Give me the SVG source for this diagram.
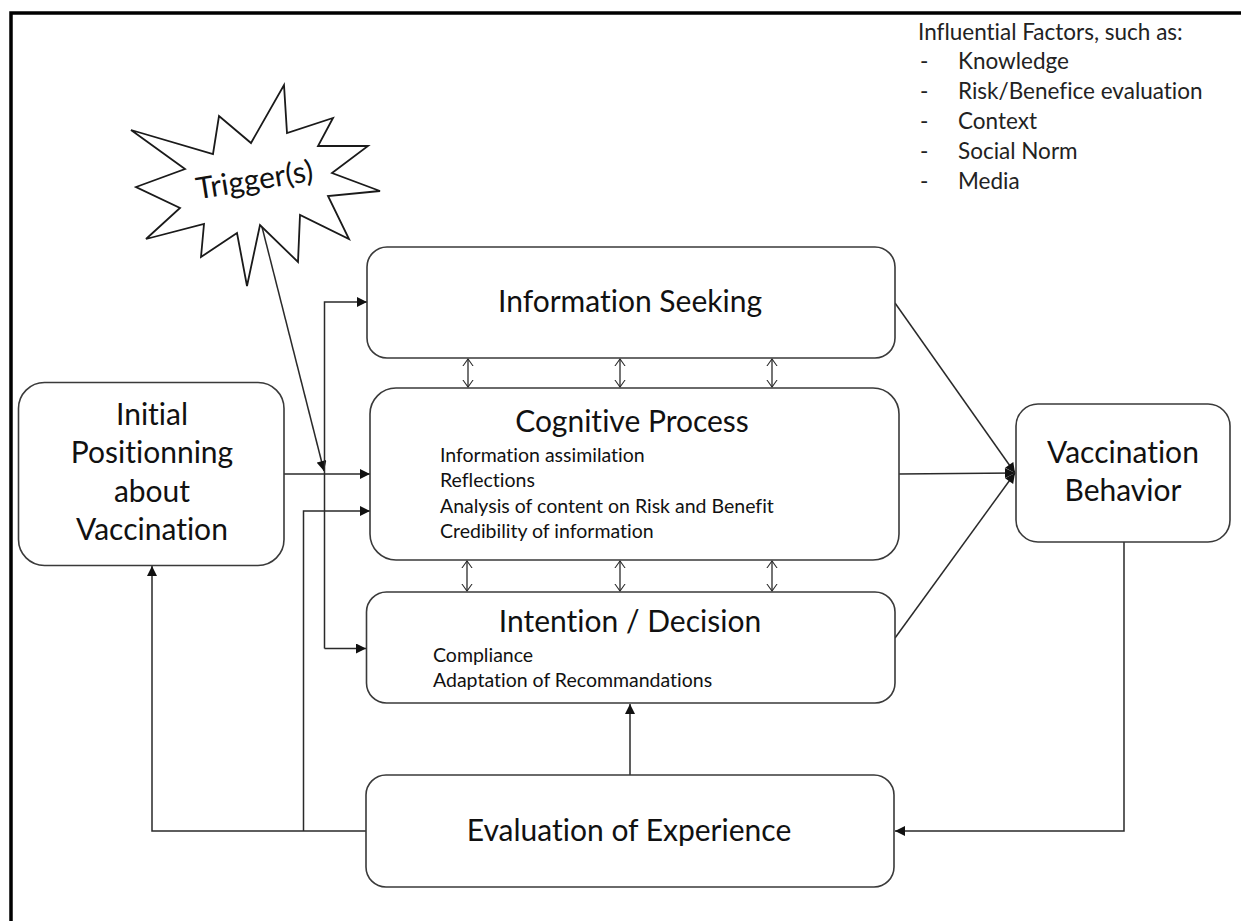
<svg xmlns="http://www.w3.org/2000/svg" width="1241" height="921" viewBox="0 0 1241 921">
  <style>
    text { font-family: Lato, "Liberation Sans", sans-serif; font-variant-ligatures: none; font-feature-settings: "liga" 0, "clig" 0; }
    .box { fill: #ffffff; stroke: #3a3a3a; stroke-width: 1.6; }
    .title { font-size: 30px; fill: #111111; text-anchor: middle; }
    .item { font-size: 19.5px; fill: #111111; }
    .note { font-size: 22.5px; fill: #222222; }
    .wire { fill: none; stroke: #2a2a2a; stroke-width: 1.5; }
    .arrow { marker-end: url(#head); }
    .dbl { fill: none; stroke: #2a2a2a; stroke-width: 1.3; marker-start: url(#chev); marker-end: url(#chev); }
  </style>
  <defs>
    <marker id="head" viewBox="0 0 10 10" refX="10" refY="5" markerWidth="11" markerHeight="10" markerUnits="userSpaceOnUse" orient="auto">
      <path d="M0,0 L10,5 L0,10 Z" fill="#111111"/>
    </marker>
    <marker id="chev" viewBox="0 0 10 14" refX="9" refY="7" markerWidth="8" markerHeight="12" markerUnits="userSpaceOnUse" orient="auto-start-reverse">
      <path d="M0,0.5 L9,7 L0,13.5" fill="none" stroke="#2a2a2a" stroke-width="1.3"/>
    </marker>
  </defs>

  <rect x="0" y="0" width="1241" height="921" fill="#ffffff"/>
  <!-- outer frame -->
  <path d="M11,930 V13 H1250" fill="none" stroke="#000000" stroke-width="3.5"/>

  <!-- influential factors list -->
  <g id="factors">
    <text class="note" x="918" y="40">Influential Factors, such as:</text>
    <text class="note" x="920" y="69">-</text><text class="note" x="958" y="69">Knowledge</text>
    <text class="note" x="920" y="99">-</text><text class="note" x="958" y="99">Risk/Benefice evaluation</text>
    <text class="note" x="920" y="129">-</text><text class="note" x="958" y="129">Context</text>
    <text class="note" x="920" y="159">-</text><text class="note" x="958" y="159">Social Norm</text>
    <text class="note" x="920" y="189">-</text><text class="note" x="958" y="189">Media</text>
  </g>

  <!-- connectors -->
  <g id="connectors">
    <path class="wire arrow" d="M284,474 H370"/>
    <path class="wire arrow" d="M262,227 L324,471"/>
    <path class="wire arrow" d="M324.5,648.5 V302 H367"/>
    <path class="wire arrow" d="M324.5,648.5 H366"/>
    <path class="wire arrow" d="M366,831 H152 V566"/>
    <path class="wire arrow" d="M303.5,831 V511 H370"/>
    <path class="wire arrow" d="M630,775 V704"/>
    <path class="wire arrow" d="M1124,542 V831 H895"/>
    <path class="wire arrow" d="M895,303 L1015,473"/>
    <path class="wire arrow" d="M899,474 L1015,473"/>
    <path class="wire arrow" d="M895,638 L1015,473"/>
    <path class="dbl" d="M468,359 V387"/>
    <path class="dbl" d="M620,359 V387"/>
    <path class="dbl" d="M772,359 V387"/>
    <path class="dbl" d="M467,561 V591"/>
    <path class="dbl" d="M620,561 V591"/>
    <path class="dbl" d="M772,561 V591"/>
  </g>

  <g id="trigger">
    <polygon points="131,130 213,154 219,116 251,143 284,85 287,133 333,118 318,146 368,146 332,173 380,191 328,196 349,239 300,215 298,262 260,225 247,286 237,233 201,257 204,224 146,239 180,208 136,187 185,169" fill="#ffffff" stroke="#1a1a1a" stroke-width="1.8" stroke-linejoin="miter"/>
    <text class="title" x="255" y="190" font-size="20" transform="rotate(-9 255 183)">Trigger(s)</text>
  </g>

  <g id="initial-positioning">
    <rect class="box" x="18.5" y="382.5" width="265.5" height="183" rx="26"/>
    <text class="title" x="152" y="425">Initial</text>
    <text class="title" x="152" y="463">Positionning</text>
    <text class="title" x="152" y="502">about</text>
    <text class="title" x="152" y="540">Vaccination</text>
  </g>

  <g id="information-seeking">
    <rect class="box" x="367" y="247" width="528" height="111" rx="20"/>
    <text class="title" x="630" y="312">Information Seeking</text>
  </g>

  <g id="cognitive-process">
    <rect class="box" x="370" y="388" width="529" height="172" rx="26"/>
    <text class="title" x="632" y="432">Cognitive Process</text>
    <text class="item" x="440" y="462">Information  assimilation</text>
    <text class="item" x="440" y="487">Reflections</text>
    <text class="item" x="440" y="512.5">Analysis of content on Risk and Benefit</text>
    <text class="item" x="440" y="538">Credibility of information</text>
  </g>

  <g id="intention-decision">
    <rect class="box" x="366.5" y="592" width="528.5" height="111" rx="20"/>
    <text class="title" x="630" y="632">Intention / Decision</text>
    <text class="item" x="433" y="662">Compliance</text>
    <text class="item" x="433" y="687">Adaptation of Recommandations</text>
  </g>

  <g id="vaccination-behavior">
    <rect class="box" x="1016" y="404" width="214" height="138" rx="22"/>
    <text class="title" x="1123" y="463">Vaccination</text>
    <text class="title" x="1123" y="501">Behavior</text>
  </g>

  <g id="evaluation-experience">
    <rect class="box" x="366" y="775" width="528" height="112" rx="20"/>
    <text class="title" x="629" y="841" font-size="29">Evaluation of Experience</text>
  </g>
</svg>
